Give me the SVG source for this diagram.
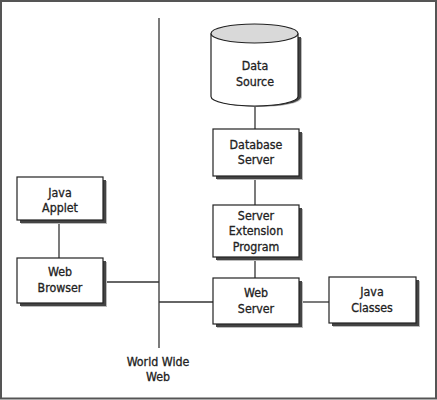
<svg xmlns="http://www.w3.org/2000/svg" width="437" height="400" viewBox="0 0 437 400">
<style>
.box{fill:#fff;stroke:#222;stroke-width:1.2}
.sh{fill:#444}
.sh2{fill:#bbb}
.ln{stroke:#333;stroke-width:1.3;fill:none}
text{font-family:"DejaVu Sans Condensed","Liberation Sans",Arial,sans-serif;font-size:12.3px;fill:#222;stroke:#222;stroke-width:0.3;text-anchor:middle}
</style>
<rect x="0" y="0" width="437" height="400" fill="#fff"/>
<rect x="1" y="1" width="435" height="397.5" fill="none" stroke="#555" stroke-width="2"/>
<g id="connectors">
<line class="ln" x1="159" y1="18" x2="159" y2="348"/>
<line class="ln" x1="255" y1="106" x2="255" y2="129"/>
<line class="ln" x1="255" y1="176" x2="255" y2="205"/>
<line class="ln" x1="255" y1="257" x2="255" y2="278"/>
<line class="ln" x1="159" y1="302" x2="213" y2="302"/>
<line class="ln" x1="299" y1="302" x2="329" y2="302"/>
<line class="ln" x1="59" y1="220" x2="59" y2="258"/>
<line class="ln" x1="103" y1="282" x2="159" y2="282"/>
</g>
<g id="data-source">
<path class="sh2" d="M215 38 V97.5 A43.5 9.5 0 0 0 302 97.5 V38 Z"/>
<path class="sh" d="M214 37 V97 A43.5 9.5 0 0 0 301 97 V37 Z"/>
<path class="box" d="M211 33.5 V96.5 A43.5 9.5 0 0 0 298 96.5 V33.5"/>
<ellipse cx="254.5" cy="33.5" rx="43.5" ry="9.5" fill="#d9d9d9" stroke="#222" stroke-width="1.2"/>
<text x="255" y="70">Data</text>
<text x="255" y="86">Source</text>
</g>
<g id="database-server">
<rect class="sh2" x="217" y="133" width="86" height="47"/>
<rect class="sh" x="216" y="132" width="86" height="47"/>
<rect class="box" x="213" y="129" width="86" height="47"/>
<text x="256" y="149">Database</text>
<text x="256" y="164">Server</text>
</g>
<g id="server-extension-program">
<rect class="sh2" x="217" y="209" width="86" height="52"/>
<rect class="sh" x="216" y="208" width="86" height="52"/>
<rect class="box" x="213" y="205" width="86" height="52"/>
<text x="256" y="220">Server</text>
<text x="256" y="235">Extension</text>
<text x="256" y="251">Program</text>
</g>
<g id="web-server">
<rect class="sh2" x="217" y="282" width="86" height="46"/>
<rect class="sh" x="216" y="281" width="86" height="46"/>
<rect class="box" x="213" y="278" width="86" height="46"/>
<text x="256" y="297">Web</text>
<text x="256" y="313">Server</text>
</g>
<g id="java-classes">
<rect class="sh2" x="333" y="281" width="87" height="46"/>
<rect class="sh" x="332" y="280" width="87" height="46"/>
<rect class="box" x="329" y="277" width="87" height="46"/>
<text x="372" y="296">Java</text>
<text x="372" y="312">Classes</text>
</g>
<g id="java-applet">
<rect class="sh2" x="21" y="181" width="86" height="43"/>
<rect class="sh" x="20" y="180" width="86" height="43"/>
<rect class="box" x="17" y="177" width="86" height="43"/>
<text x="60" y="197">Java</text>
<text x="60" y="212">Applet</text>
</g>
<g id="web-browser">
<rect class="sh2" x="21" y="262" width="86" height="45"/>
<rect class="sh" x="20" y="261" width="86" height="45"/>
<rect class="box" x="17" y="258" width="86" height="45"/>
<text x="60" y="276">Web</text>
<text x="60" y="292">Browser</text>
</g>
<g id="world-wide-web">
<text x="158" y="366">World Wide</text>
<text x="158" y="381">Web</text>
</g>
</svg>
